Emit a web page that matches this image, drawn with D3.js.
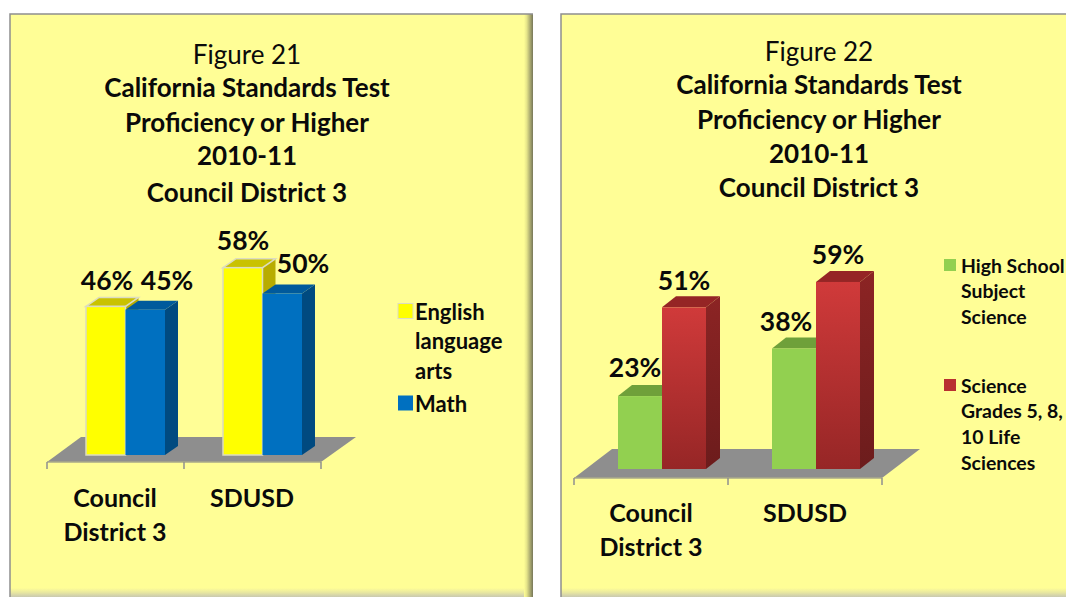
<!DOCTYPE html>
<html><head><meta charset="utf-8">
<style>html,body{margin:0;padding:0;background:#fff}svg{display:block}text{font-family:Lato,"Open Sans",sans-serif;fill:#0a0a0a}</style>
<script src="https://cdn.jsdelivr.net/npm/d3@7/dist/d3.min.js"></script>
</head><body><svg id="c" width="1066" height="597"></svg>
<script>
const categories = [["Council","District 3"],["SDUSD"]];
const fig21Title = ["Figure 21","California Standards Test","Proficiency or Higher","2010-11","Council District 3"];
const fig22Title = ["Figure 22","California Standards Test","Proficiency or Higher","2010-11","Council District 3"];
const fig21Series = ["English language arts","Math"];
const fig21English = [46,58];
const fig21Math = [45,50];
const fig22Series = ["High School Subject Science","Science Grades 5, 8, 10 Life Sciences"];
const fig22HighSchool = [23,38];
const fig22Life = [51,59];
const fig21Legend = [["English","language","arts"],["Math"]];
const fig22Legend = [["High School","Subject","Science"],["Science","Grades 5, 8,","10 Life","Sciences"]];

const svg = d3.select("#c");
const defs = svg.append("defs");
function lin(id,x2,y2,stops){
  const g=defs.append("linearGradient").attr("id",id).attr("x1",0).attr("y1",0).attr("x2",x2).attr("y2",y2);
  stops.forEach(s=>g.append("stop").attr("offset",s[0]).attr("stop-color",s[1]));
}
lin("shR",1,0,[[0,"#fffe96"],[0.3,"#e6e58a"],[1,"#77775a"]]);
lin("shB",0,1,[[0,"#fffe96"],[0.5,"#e8e7a0"],[1,"#c9c9b0"]]);
lin("redF",0,1,[[0,"#d03a3a"],[1,"#962626"]]);
lin("redS",0,1,[[0,"#8c2424"],[1,"#6c1c1c"]]);

function panel(x0,x1,shadow){
  const y0=14,y1=597;
  svg.append("rect").attr("x",x0).attr("y",y0).attr("width",x1-x0).attr("height",y1-y0).attr("fill","#fffe96");
  svg.append("rect").attr("x",x0).attr("y",y1-9).attr("width",x1-x0).attr("height",9).attr("fill","url(#shB)");
  if(shadow) svg.append("rect").attr("x",x1-9).attr("y",y0).attr("width",9).attr("height",y1-y0).attr("fill","url(#shR)");
  svg.append("path").attr("d",`M${x0},${y1}V${y0}H${x1}`).attr("fill","none").attr("stroke","#8f8f8f").attr("stroke-width",1.5);
}
function multi(lines,cx,ys,size,weights,anchor){
  lines.forEach((t,i)=>svg.append("text").attr("x",cx).attr("y",ys[i]).attr("text-anchor",anchor||"middle")
    .attr("dominant-baseline","central").attr("font-size",size).attr("font-weight",weights?weights(i):700).text(t));
}
function chart(o){
  const x=d3.scaleBand().domain(d3.range(categories.length)).range(o.xr);
  const s=d3.scaleBand().domain(d3.range(o.series.length)).range(o.sr);
  const y=d3.scaleLinear().domain([0,100]).range([o.base,o.base-o.full]);
  const f=o.floor;
  svg.append("path").attr("d",d3.line()([[o.xr[0],f.front],[o.xr[1],f.front],[f.br,f.back],[f.bl,f.back]])+"Z").attr("fill","#8e8e8e");
  const ticks=d3.range(categories.length+1).map(i=>i<categories.length?x(i):o.xr[1]);
  svg.append("path").attr("d",`M${o.xr[0]},${f.front}H${o.xr[1]}`).attr("stroke","#a9a98a").attr("stroke-width",1.5);
  svg.selectAll(null).data(ticks).enter().append("line").attr("x1",d=>d).attr("x2",d=>d)
    .attr("y1",f.front).attr("y2",f.front+7).attr("stroke","#8f8f8f").attr("stroke-width",1.5);
  categories.forEach((c,ci)=>{
    o.values.forEach((vals,si)=>{
      const st=o.styles[si], xl=x(ci)+s(si), w=s.bandwidth(), top=y(vals[ci]), b=y(0), dx=o.dx, dy=o.dy;
      svg.append("path").attr("d",d3.line()([[xl+w,top],[xl+w+dx,top-dy],[xl+w+dx,b-dy],[xl+w,b]])+"Z").attr("fill",st.side);
      svg.append("path").attr("d",d3.line()([[xl,top],[xl+dx,top-dy],[xl+w+dx,top-dy],[xl+w,top]])+"Z").attr("fill",st.top)
        .attr("stroke",st.edge||"none").attr("stroke-width",1.5);
      svg.append("rect").attr("x",xl).attr("y",top).attr("width",w).attr("height",b-top).attr("fill",st.front)
        .attr("stroke",st.edge||"none").attr("stroke-width",1.5);
    });
  });
  o.values.forEach((vals,si)=>vals.forEach((v,ci)=>{
    const p=o.labelAt[si][ci];
    svg.append("text").attr("x",p[0]).attr("y",p[1]).attr("text-anchor","middle").attr("dominant-baseline","central")
      .attr("font-size",o.labelSize).attr("font-weight",700).text(v+"%");
  }));
  categories.forEach((lines,i)=>multi(lines,x(i)+x.bandwidth()/2+o.catShift,o.catY,o.catSize));
  multi(o.title,o.titleX,o.titleY,o.titleSize,i=>i===0?400:700);
  o.legend.forEach((lines,i)=>{
    const l=o.legendAt[i];
    svg.append("rect").attr("x",o.swX).attr("y",l.y[0]-o.sw/2).attr("width",o.sw).attr("height",o.sw)
      .attr("fill",o.styles[i].swatch||o.styles[i].front).attr("stroke",o.styles[i].edge||"none");
    multi(lines,o.legX,l.y,o.legSize,null,"start");
  });
}
panel(10,533,true);
panel(561,1070,false);
chart({series:fig21Series,values:[fig21English,fig21Math],title:fig21Title,legend:fig21Legend,
  xr:[47,321],sr:[39,118],base:455,full:323,dx:13,dy:9,
  floor:{front:462,back:437,br:356,bl:81},
  styles:[{front:"#ffff00",side:"#b8ac00",top:"#c9c200",edge:"#dcdcc0"},{front:"#0070c0",side:"#004a80",top:"#005a9c"}],
  labelAt:[[[107,280],[243,240]],[[167,280],[303,263]]],labelSize:26.5,
  catY:[497,531],catSize:25,catShift:-0.5,
  titleX:247,titleY:[54,87,122,155,192],titleSize:26,
  swX:398,sw:15,legX:415,legSize:22,
  legendAt:[{y:[311,340,370]},{y:[403]}]});
chart({series:fig22Series,values:[fig22HighSchool,fig22Life],title:fig22Title,legend:fig22Legend,
  xr:[574,882],sr:[44,132],base:469,full:317,dx:14,dy:11,
  floor:{front:478,back:449,br:920,bl:612},
  styles:[{front:"#92d050",side:"#6f9f3a",top:"#6fa03a"},{front:"url(#redF)",side:"url(#redS)",top:"#952525",swatch:"#b93030"}],
  labelAt:[[[635,367],[786,321]],[[684,280],[838,254]]],labelSize:26.5,
  catY:[512,546],catSize:25,catShift:0,
  titleX:819,titleY:[51,84,119,153,187],titleSize:26,
  swX:944,sw:12,legX:961,legSize:19.4,
  legendAt:[{y:[265,290,316]},{y:[385,410,436,462]}]});
</script></body></html>
